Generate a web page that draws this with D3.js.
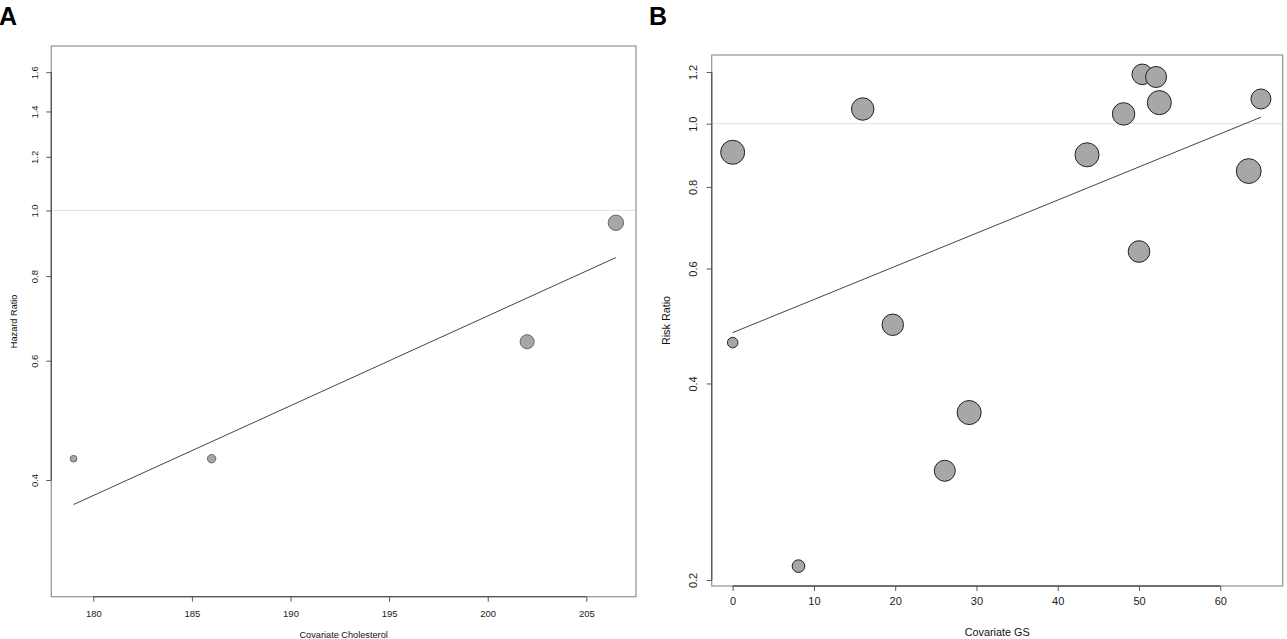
<!DOCTYPE html>
<html>
<head>
<meta charset="utf-8">
<script src="https://cdn.jsdelivr.net/npm/d3@7"></script>
<style>
  body { margin: 0; background: #fff; }
  text { font-family: "Liberation Sans", Arial, sans-serif; }
</style>
</head>
<body>
<div id="chart"></div>
<script>
// panel A: cholesterol meta-regression
let cholesterol = [179, 186, 202, 206.5];
let hazardRatio = [0.43, 0.43, 0.64, 0.959];
let weightA = [1.85, 3.0, 8.3, 10];
let fitA = {x: [179, 206.5], y: [0.368, 0.852]};
let xTicksA = [180, 185, 190, 195, 200, 205];
let yTicksA = [0.4, 0.6, 0.8, 1.0, 1.2, 1.4, 1.6];

// panel B: GS meta-regression
let gs = [0, 16, 43.6, 48.1, 50.4, 52.1, 52.5, 65, 63.5, 50, 19.7, 0, 29.1, 26.1, 8.1];
let riskRatio = [0.904, 1.053, 0.896, 1.035, 1.19, 1.179, 1.077, 1.091, 0.846, 0.637, 0.492, 0.462, 0.361, 0.294, 0.21];
let weightB = [9.4, 8.2, 9.4, 8.2, 6.9, 7.2, 9.4, 6.5, 10, 7.6, 7.5, 1.8, 9.4, 7.2, 2.6];
let fitB = {x: [0, 65], y: [0.4785, 1.023]};
let xTicksB = [0, 10, 20, 30, 40, 50, 60];
let yTicksB = [0.2, 0.4, 0.6, 0.8, 1.0, 1.2];

let width = 1287;
let height = 639;

let svg = d3.select("#chart")
	.append("svg")
	.attr("width", width).attr("height", height);

function drawPanel(p) {
	let x = d3.scaleLinear().domain(p.xDomain).range([p.left, p.right]);
	let y = d3.scaleLog().domain(p.yDomain).range([p.bottom, p.top]);
	let r = d3.scaleSqrt().domain([0, 10]).range([0, p.maxR]);
	let g = svg.append("g");

	// reference line at 1
	g.append("line")
		.attr("x1", p.left).attr("x2", p.right)
		.attr("y1", y(1)).attr("y2", y(1))
		.attr("stroke", "#e2e2e2").attr("stroke-width", 1);

	// plot box
	g.append("rect")
		.attr("x", p.left).attr("y", p.top)
		.attr("width", p.right - p.left).attr("height", p.bottom - p.top)
		.attr("fill", "none").attr("stroke", "#9a9a9a").attr("stroke-width", 1.3);

	// x axis
	let gx = g.append("g")
		.attr("transform", `translate(0,${p.bottom})`)
		.call(d3.axisBottom(x).tickValues(p.xTicks).tickSize(5).tickPadding(p.xPad).tickFormat(d3.format("d")));
	gx.select(".domain").remove();
	gx.selectAll(".tick line").attr("stroke", "#555");
	gx.selectAll(".tick text").attr("fill", "#222").style("font-size", p.font + "px");
	gx.append("line")
		.attr("x1", x(p.xTicks[0])).attr("x2", x(p.xTicks[p.xTicks.length - 1]))
		.attr("stroke", "#555").attr("stroke-width", 1.3);

	// y axis, labels parallel to the axis
	let gy = g.append("g")
		.attr("transform", `translate(${p.left},0)`)
		.call(d3.axisLeft(y).tickValues(p.yTicks).tickSize(5).tickFormat(d3.format(".1f")));
	gy.select(".domain").remove();
	gy.selectAll(".tick line").attr("stroke", "#555");
	gy.selectAll(".tick text")
		.attr("x", null).attr("dy", "0.35em")
		.attr("text-anchor", "middle")
		.attr("transform", `translate(${-p.yLabelOff},0) rotate(-90)`)
		.attr("fill", "#222").style("font-size", p.font + "px");
	gy.append("line")
		.attr("y1", y(p.yTicks[0])).attr("y2", y(p.yTicks[p.yTicks.length - 1]))
		.attr("stroke", "#555").attr("stroke-width", 1.3);

	// fitted line
	g.append("line")
		.attr("x1", x(p.fit.x[0])).attr("y1", y(p.fit.y[0]))
		.attr("x2", x(p.fit.x[1])).attr("y2", y(p.fit.y[1]))
		.attr("stroke", "#444").attr("stroke-width", 1);

	// studies
	g.selectAll(".study").data(p.xs)
		.join("circle")
		.attr("class", "study")
		.attr("cx", d => x(d))
		.attr("cy", (d, i) => y(p.ys[i]))
		.attr("r", (d, i) => r(p.w[i]))
		.attr("fill", "#a7a7a7")
		.attr("stroke", p.circleStroke).attr("stroke-width", 1);

	// titles
	g.append("text")
		.attr("x", (p.left + p.right) / 2).attr("y", p.xTitleY)
		.attr("text-anchor", "middle").attr("fill", "#111")
		.style("font-size", p.titleFont + "px")
		.text(p.xTitle);
	g.append("text")
		.attr("transform", `translate(${p.yTitleX},${(p.top + p.bottom) / 2}) rotate(-90)`)
		.attr("text-anchor", "middle").attr("dy", "0.35em").attr("fill", "#111")
		.style("font-size", p.titleFont + "px")
		.text(p.yTitle);
	g.append("text")
		.attr("x", p.tagX).attr("y", 25)
		.attr("font-weight", "bold").style("font-size", "25px")
		.text(p.tag);
}

drawPanel({
	tag: "A", tagX: -1,
	xs: cholesterol, ys: hazardRatio, w: weightA, fit: fitA,
	xTicks: xTicksA, yTicks: yTicksA,
	xDomain: [177.87, 207.52], yDomain: [0.269, 1.749],
	left: 51.3, right: 636, top: 46, bottom: 596.7,
	maxR: 7.7, circleStroke: "#666",
	font: 9.5, titleFont: 9.2, xPad: 9, yLabelOff: 16.5,
	xTitle: "Covariate Cholesterol", xTitleY: 638,
	yTitle: "Hazard Ratio", yTitleX: 14
});

drawPanel({
	tag: "B", tagX: 649,
	xs: gs, ys: riskRatio, w: weightB, fit: fitB,
	xTicks: xTicksB, yTicks: yTicksB,
	xDomain: [-2.58, 67.68], yDomain: [0.1958, 1.274],
	left: 711.7, right: 1282.7, top: 55, bottom: 586,
	maxR: 12.4, circleStroke: "#222",
	font: 11, titleFont: 10.8, xPad: 6, yLabelOff: 19,
	xTitle: "Covariate GS", xTitleY: 635.5,
	yTitle: "Risk Ratio", yTitleX: 666
});
</script>
</body>
</html>
